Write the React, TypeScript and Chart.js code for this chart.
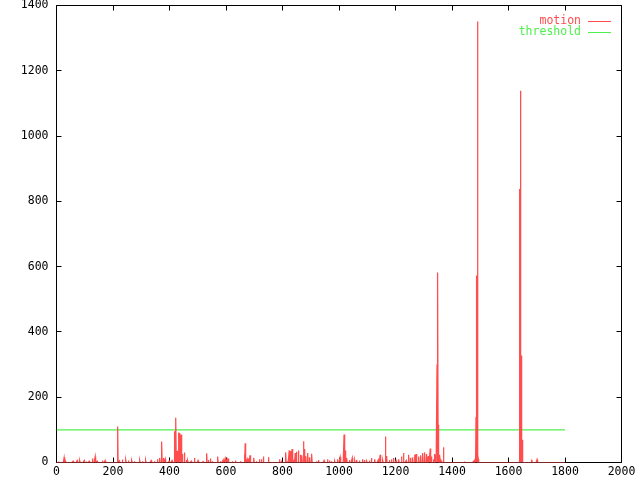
import React, { useEffect, useRef } from "react";
import { Chart, registerables } from "chart.js";

Chart.register(...registerables);

// Frames with visible motion (all other frames read as 0)
const motionFrames = [
  7, 27, 33, 59, 73, 83, 98, 106, 116, 127, 137, 144, 163, 172, 217, 222, 234, 246, 255, 267,
  276, 295, 305, 316, 335, 347, 358, 366, 373, 378, 385, 399, 409, 418, 423, 427, 432, 437, 441, 446,
  453, 460, 465, 477, 489, 501, 519, 532, 538, 545, 552, 571, 581, 590, 597, 604, 609, 623, 633, 652,
  666, 668, 675, 680, 685, 699, 708, 718, 725, 732, 751, 789, 796, 812, 817, 824, 829, 834, 841, 845,
  850, 857, 864, 869, 874, 878, 883, 890, 897, 904, 921, 928, 947, 959, 966, 973, 985, 995, 1004, 1018,
  1023, 1028, 1037, 1047, 1056, 1063, 1073, 1084, 1091, 1099, 1108, 1115, 1127, 1139, 1146, 1155, 1165, 1169, 1179, 1186,
  1193, 1202, 1212, 1221, 1228, 1238, 1247, 1254, 1261, 1269, 1273, 1283, 1290, 1297, 1304, 1309, 1313, 1318, 1323, 1328,
  1335, 1339, 1343, 1347, 1350, 1352, 1355, 1358, 1363, 1370, 1444, 1472, 1478, 1482, 1485, 1488, 1491, 1493, 1639, 1642,
  1645, 1648, 1683, 1701,
];
const motionValues = [
  3, 15, 3, 4, 6, 6, 6, 3, 4, 12, 18, 4, 6, 6, 110, 5, 9, 8, 6, 6,
  4, 6, 4, 6, 6, 4, 10, 14, 64, 14, 11, 4, 6, 96, 137, 36, 92, 90, 86, 26,
  31, 8, 6, 4, 14, 6, 3, 28, 8, 12, 4, 18, 4, 8, 12, 10, 12, 4, 6, 4,
  24, 59, 10, 12, 22, 14, 4, 10, 10, 18, 16, 10, 6, 31, 4, 37, 35, 41, 6, 29,
  33, 37, 24, 22, 65, 41, 20, 29, 16, 27, 4, 8, 6, 10, 6, 4, 4, 10, 16, 86,
  37, 14, 8, 14, 6, 8, 6, 10, 8, 4, 6, 14, 10, 8, 24, 6, 80, 20, 8, 10,
  14, 6, 10, 18, 29, 6, 24, 14, 16, 24, 26, 18, 22, 29, 31, 26, 18, 20, 43, 18,
  10, 26, 24, 300, 582, 116, 24, 10, 6, 47, 3, 3, 5, 8, 139, 573, 1351, 10, 838, 1139,
  328, 70, 9, 9,
];
const lastFrame = 1800;
const thresholdValue = 100;
const xMin = 0;
const xMax = 2000;
const xStep = 200;
const yMin = 0;
const yMax = 1400;
const yStep = 200;
const seriesNames = ["motion", "threshold"];

const RED = "#ff4c4c";
const GREEN = "#4ef04e";
const FONT = { family: "'DejaVu Sans Mono', monospace", size: 11.5 };

export default function App() {
  const canvasRef = useRef<HTMLCanvasElement | null>(null);

  useEffect(() => {
    const canvas = canvasRef.current;
    if (!canvas) return;

    const valueByFrame = new Map<number, number>();
    motionFrames.forEach((f, i) => valueByFrame.set(f, motionValues[i]));
    const motionData: { x: number; y: number }[] = [];
    for (let f = 0; f <= lastFrame; f++) {
      motionData.push({ x: f, y: valueByFrame.get(f) ?? 0 });
    }
    const thresholdData = [
      { x: 0, y: thresholdValue },
      { x: lastFrame, y: thresholdValue },
    ];

    const framePlugin = {
      id: "gnuframe",
      beforeDatasetsDraw(chart: any) {
        const { ctx, chartArea } = chart;
        const { left, right, top, bottom } = chartArea;
        ctx.save();
        ctx.strokeStyle = "#000";
        ctx.lineWidth = 1;
        ctx.beginPath();
        ctx.rect(left, top, right - left, bottom - top);
        const tl = 5;
        const xs = chart.scales.x;
        xs.ticks.forEach((t: any) => {
          const p = Math.floor(xs.getPixelForValue(t.value)) + 0.5;
          ctx.moveTo(p, bottom);
          ctx.lineTo(p, bottom - tl);
          ctx.moveTo(p, top);
          ctx.lineTo(p, top + tl);
        });
        const ys = chart.scales.y;
        ys.ticks.forEach((t: any) => {
          const p = Math.floor(ys.getPixelForValue(t.value)) + 0.5;
          ctx.moveTo(left, p);
          ctx.lineTo(left + tl, p);
          ctx.moveTo(right, p);
          ctx.lineTo(right - tl, p);
        });
        ctx.stroke();
        ctx.restore();
      },
    };

    const legendPlugin = {
      id: "gnulegend",
      afterDraw(chart: any) {
        const { ctx } = chart;
        ctx.save();
        ctx.font = `${FONT.size}px ${FONT.family}`;
        ctx.textAlign = "right";
        ctx.textBaseline = "middle";
        chart.data.datasets.forEach((ds: any, i: number) => {
          const y = 21.5 + i * 11;
          ctx.fillStyle = ds.borderColor;
          ctx.fillText(ds.label, 581, y);
          ctx.strokeStyle = ds.borderColor;
          ctx.lineWidth = 1;
          ctx.beginPath();
          ctx.moveTo(588, y);
          ctx.lineTo(611, y);
          ctx.stroke();
        });
        ctx.restore();
      },
    };

    const plain = (v: any) => String(v);

    const chart = new Chart(canvas, {
      type: "line",
      data: {
        datasets: [
          {
            label: seriesNames[0],
            data: motionData,
            borderColor: RED,
            backgroundColor: RED,
            borderWidth: 1.25,
            pointRadius: 0,
            tension: 0,
            fill: false,
          },
          {
            label: seriesNames[1],
            data: thresholdData,
            borderColor: GREEN,
            backgroundColor: GREEN,
            borderWidth: 1.25,
            pointRadius: 0,
            tension: 0,
            fill: false,
          },
        ],
      },
      options: {
        animation: false,
        responsive: false,
        parsing: false,
        layout: { padding: { top: 5.5, right: 18.5, left: 0, bottom: 0 } },
        plugins: {
          legend: { display: false },
          tooltip: { enabled: false },
        },
        scales: {
          x: {
            type: "linear",
            min: xMin,
            max: xMax,
            ticks: { stepSize: xStep, color: "#000", font: FONT, padding: 3, maxRotation: 0, autoSkip: false, callback: plain },
            grid: { display: false, drawTicks: false },
            border: { display: false },
            afterFit: (s: any) => {
              s.height = 17.5;
              s.paddingLeft = 0;
              s.paddingRight = 0;
            },
          },
          y: {
            type: "linear",
            min: yMin,
            max: yMax,
            ticks: { stepSize: yStep, color: "#000", font: FONT, padding: 8, callback: plain },
            grid: { display: false, drawTicks: false },
            border: { display: false },
            afterFit: (s: any) => {
              s.width = 56.5;
              s.paddingTop = 0;
              s.paddingBottom = 0;
            },
          },
        },
      },
      plugins: [framePlugin, legendPlugin],
    });

    return () => chart.destroy();
  }, []);

  return (
    <div style={{ position: "absolute", left: 0, top: 0, width: 640, height: 480, background: "#fff" }}>
      <canvas ref={canvasRef} width={640} height={480} style={{ display: "block" }} />
    </div>
  );
}
